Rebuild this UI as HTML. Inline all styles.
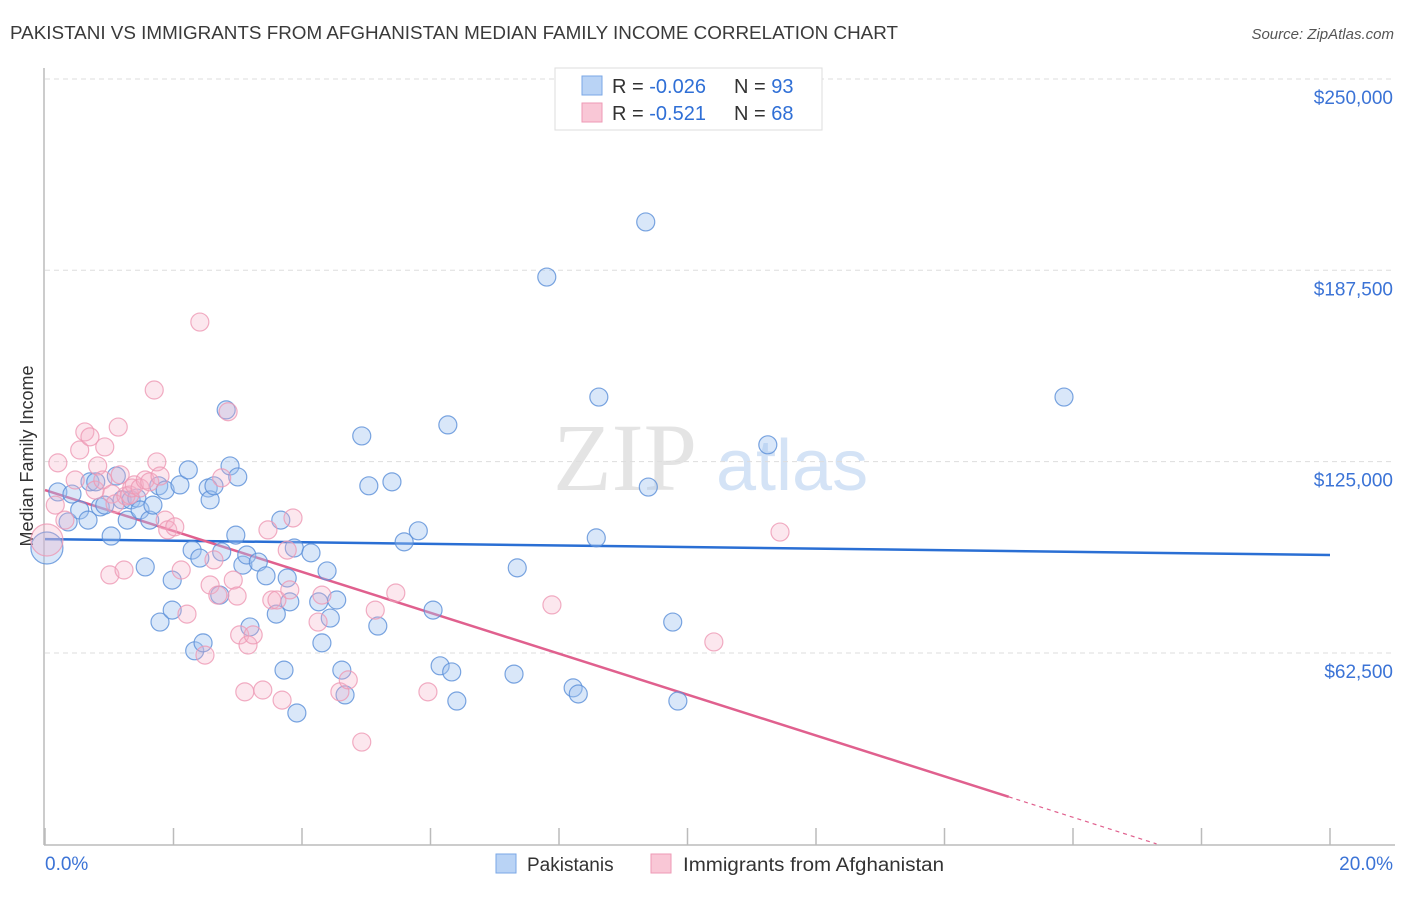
<!DOCTYPE html>
<html><head><meta charset="utf-8"><style>
body{margin:0;background:#fff;font-family:"Liberation Sans",sans-serif;}
</style></head><body>
<svg width="1406" height="892" xmlns="http://www.w3.org/2000/svg" id="svg" style="font-family:'Liberation Sans',sans-serif">
<text x="10" y="39" font-size="18" fill="#3a3a3a" textLength="888" lengthAdjust="spacingAndGlyphs">PAKISTANI VS IMMIGRANTS FROM AFGHANISTAN MEDIAN FAMILY INCOME CORRELATION CHART</text>
<text x="1394" y="39" font-size="15" fill="#555" font-style="italic" text-anchor="end">Source: ZipAtlas.com</text>
<text x="33" y="456" font-size="18" fill="#333" text-anchor="middle" transform="rotate(-90 33 456)">Median Family Income</text>
<g>
<text x="553" y="490" font-size="96" font-family="Liberation Serif" fill="#e4e4e4">ZIP</text>
<text x="716" y="490" font-size="72" fill="#d4e3f6">atlas</text>
</g>
<g id="grid"></g><g id="axes"></g><g id="trend"></g><g id="pts"></g>
<g>
<rect x="555" y="68" width="267" height="62" fill="#fff" stroke="#ddd"/>
<rect x="582" y="76" width="20" height="19" fill="#b9d3f5" stroke="#7aa7e6"/>
<rect x="582" y="103" width="20" height="19" fill="#f9c7d6" stroke="#ee9ab5"/>
<text x="612" y="93" font-size="20" fill="#333">R = <tspan fill="#2f6fd6">-0.026</tspan></text>
<text x="734" y="93" font-size="20" fill="#333">N = <tspan fill="#2f6fd6">93</tspan></text>
<text x="612" y="120" font-size="20" fill="#333">R =  <tspan fill="#2f6fd6">-0.521</tspan></text>
<text x="734" y="120" font-size="20" fill="#333">N = <tspan fill="#2f6fd6">68</tspan></text>
</g>
<g>
<rect x="496" y="854" width="20" height="19" fill="#b9d3f5" stroke="#7aa7e6"/>
<text x="527" y="871" font-size="19" fill="#333">Pakistanis</text>
<rect x="651" y="854" width="20" height="19" fill="#f9c7d6" stroke="#ee9ab5"/>
<text x="683" y="871" font-size="19" fill="#333" textLength="261" lengthAdjust="spacingAndGlyphs">Immigrants from Afghanistan</text>
</g>
</svg>
<script>
const yTicks=[62.5,125,187.5,250];
const yTickLabels=["$62,500","$125,000","$187,500","$250,000"];
const xTicks=[0,2,4,6,8,10,12,14,16,18,20];
const blueX=[.03,.20,.36,.42,.54,.70,.79,.67,.86,.93,1.03,1.11,1.20,1.28,1.34,1.43,1.48,1.56,1.63,1.68,1.77,1.87,1.98,1.79,1.98,2.10,2.23,2.29,2.41,2.33,2.46,2.54,2.57,2.63,2.72,2.75,2.82,2.88,2.97,3.00,3.08,3.14,3.19,3.32,3.44,3.60,3.67,3.72,3.77,3.81,3.88,3.92,4.14,4.26,4.31,4.39,4.44,4.54,4.62,4.67,4.93,5.04,5.18,5.40,5.59,5.81,6.04,6.15,6.27,6.33,6.41,7.30,7.35,7.81,8.22,8.30,8.58,8.62,9.35,9.39,9.77,9.85,11.25,15.86];
const blueY=[96.8,115.1,105.3,114.4,109.2,118.4,118.4,105.9,110.2,110.8,100.7,120.3,112.5,105.9,112.5,113.1,109.2,90.6,105.9,110.8,117.1,115.7,86.3,72.6,76.5,117.4,122.3,96.1,93.5,63.2,65.8,116.4,112.5,117.1,81.4,95.5,141.9,123.6,101.0,120.0,91.2,94.5,71.0,92.2,87.7,75.2,105.9,56.9,87.0,79.2,96.8,42.9,95.2,79.2,65.8,89.3,73.9,79.8,56.9,48.8,133.4,117.1,71.3,118.4,98.8,102.4,76.5,58.3,137.0,56.3,46.8,55.6,90.3,185.3,51.1,49.1,100.1,146.1,203.3,116.7,72.6,46.8,130.5,146.1];
const pinkX=[.03,.16,.20,.31,.47,.54,.62,.70,.78,.82,.90,.93,1.01,1.04,1.09,1.14,1.17,1.23,1.26,1.32,1.35,1.39,1.48,1.56,1.63,1.70,1.74,1.79,1.87,1.91,2.02,2.12,2.21,2.41,2.49,2.57,2.63,2.69,2.75,2.85,2.93,2.99,3.03,3.11,3.16,3.24,3.39,3.47,3.53,3.61,3.69,3.77,3.81,3.86,4.25,4.31,4.59,4.72,4.93,5.14,5.46,5.96,7.89,10.41,11.44];
const pinkY=[99.4,110.8,124.6,105.9,119.0,128.8,134.7,133.1,115.7,123.6,119.0,129.8,88.0,114.4,111.2,136.3,120.7,89.6,113.8,114.1,116.4,117.4,116.4,119.0,118.4,148.4,124.9,120.3,105.9,102.7,103.7,89.6,75.2,170.6,61.8,84.7,92.9,81.4,119.7,141.3,86.3,81.1,68.4,49.8,65.1,68.4,50.4,102.7,79.8,79.8,47.1,96.1,83.1,106.6,72.6,81.4,49.8,53.7,33.4,76.5,82.1,49.8,78.2,66.1,102.0];
const blueTrend=[99.7,94.5];      // value at 0% and 20%
const pinkTrend=[115.7,-6.68];    // intercept, slope per %
const pinkSolidEnd=15, pinkDashEnd=17.3;
const X=v=>45+v*64.25, Y=v=>844.3-v*3.0613;
const NS="http://www.w3.org/2000/svg";
function mk(t,a,p){const e=document.createElementNS(NS,t);for(const k in a)e.setAttribute(k,a[k]);document.getElementById(p).appendChild(e);return e;}
yTicks.forEach((t,i)=>{
 const l=mk('line',{x1:45,x2:1395,y1:Y(t),y2:Y(t),stroke:'#ddd','stroke-dasharray':'5,4'},'grid');
 
 
 const tx=mk('text',{x:1393,y:Y(t)+25,'font-size':19,fill:'#3b73d6','text-anchor':'end'},'grid');
 tx.textContent=yTickLabels[i];
 
 
});
mk('line',{x1:44,x2:44,y1:68,y2:845,stroke:'#bbb','stroke-width':1.5},'axes');
mk('line',{x1:44,x2:1395,y1:845,y2:845,stroke:'#bbb','stroke-width':1.5},'axes');
xTicks.forEach(t=>{const l=mk('line',{x1:X(t),x2:X(t),y1:828,y2:845,stroke:'#bbb','stroke-width':1.5},'axes');
 
 });
const x0=mk('text',{x:45,y:870,'font-size':19,fill:'#3b73d6'},'axes');x0.textContent='0.0%';


const x1=mk('text',{x:1393,y:870,'font-size':19,fill:'#3b73d6','text-anchor':'end'},'axes');x1.textContent='20.0%';


function pts(xs,ys,fill,stroke,name){xs.forEach((x,i)=>{const r=i===0?16:9;
 const c=mk('circle',{cx:X(x),cy:Y(ys[i]),r:r,fill:fill,stroke:stroke,'stroke-width':1.2,'stroke-opacity':0.8},'pts');
 
 });}
pts(blueX,blueY,'rgba(160,196,240,0.4)','#5a8ed8','pakistani-point');
pts(pinkX,pinkY,'rgba(246,176,200,0.3)','#ee98b4','afghan-point');
const bl=mk('line',{x1:X(0),y1:Y(blueTrend[0]),x2:X(20),y2:Y(blueTrend[1]),stroke:'#2a6fd4','stroke-width':2.5},'trend');


const pv=x=>pinkTrend[0]+pinkTrend[1]*x;
const pl=mk('line',{x1:X(0),y1:Y(pv(0)),x2:X(pinkSolidEnd),y2:Y(pv(pinkSolidEnd)),stroke:'#e0608e','stroke-width':2.5},'trend');


const pd=mk('line',{x1:X(pinkSolidEnd),y1:Y(pv(pinkSolidEnd)),x2:X(pinkDashEnd),y2:Y(pv(pinkDashEnd)),stroke:'#e0608e','stroke-width':1.2,'stroke-dasharray':'4,4'},'trend');


</script>
</body></html>
